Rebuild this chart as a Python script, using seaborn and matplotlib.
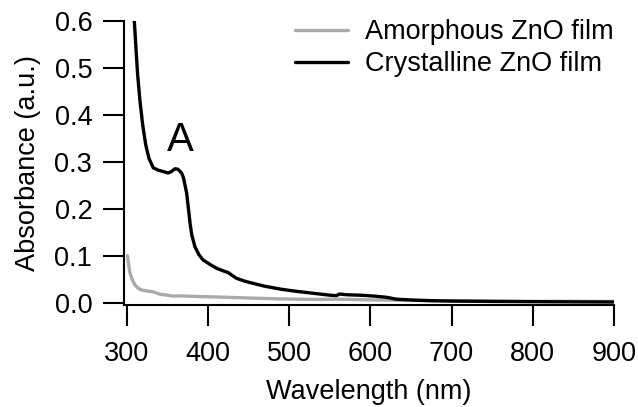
import matplotlib
matplotlib.use("Agg")
import matplotlib.pyplot as plt
import seaborn as sns
import pandas as pd

# 读图估计的数据
crys_nm = [309.3, 311.4, 313.5, 316.4, 319.7, 323.4, 327.4, 332.7, 338.9, 345, 351, 355,
           359.4, 363, 367.6, 370, 373.8, 376, 378, 380, 384, 389, 394, 402, 411, 420,
           425, 430, 435, 445, 456, 470, 489, 497, 510, 530, 550, 558, 562, 570, 591, 605,
           620, 632, 650, 673, 700, 750, 800, 850, 900]
crys_abs = [0.601, 0.541, 0.484, 0.428, 0.378, 0.336, 0.307, 0.287, 0.282, 0.279, 0.276,
            0.279, 0.285, 0.284, 0.276, 0.265, 0.233, 0.200, 0.169, 0.145, 0.119, 0.102,
            0.091, 0.082, 0.073, 0.067, 0.064, 0.058, 0.052, 0.046, 0.041, 0.035, 0.029,
            0.027, 0.024, 0.020, 0.016, 0.015, 0.0185, 0.017, 0.0157, 0.014, 0.0115,
            0.0075, 0.0058, 0.0043, 0.0035, 0.0027, 0.0022, 0.0018, 0.0015]

amor_nm = [301, 302, 304, 307, 310, 314, 318, 325, 333, 341, 350, 357, 366, 390, 415,
           450, 490, 538, 560, 600, 650, 700, 750, 800, 850, 900]
amor_abs = [0.100, 0.085, 0.063, 0.048, 0.038, 0.031, 0.027, 0.025, 0.023, 0.018, 0.016,
            0.014, 0.0145, 0.013, 0.012, 0.010, 0.008, 0.007, 0.0075, 0.006, 0.005, 0.004,
            0.0035, 0.003, 0.003, 0.0025]

labels = ['Amorphous ZnO film', 'Crystalline ZnO film']
colors = ['#aaaaaa', 'black']

df = pd.concat([
    pd.DataFrame({'Wavelength': amor_nm, 'Absorbance': amor_abs, 'Sample': labels[0]}),
    pd.DataFrame({'Wavelength': crys_nm, 'Absorbance': crys_abs, 'Sample': labels[1]}),
])

sns.set_style("ticks")
plt.rcParams['font.family'] = ['Liberation Sans', 'DejaVu Sans']
plt.rcParams['text.color'] = 'black'
plt.rcParams['axes.labelcolor'] = 'black'

fig = plt.figure(figsize=(6.38, 4.07), dpi=100)
ax = fig.add_axes([0.1948, 0.2499, 0.7676, 0.6992])

sns.lineplot(data=df, x='Wavelength', y='Absorbance', hue='Sample', hue_order=labels,
             palette=colors, linewidth=2.4, ax=ax, sort=False, estimator=None)

ax.set_xlim(297, 900)
ax.set_ylim(-0.0055, 0.6)
ax.set_xticks([300, 400, 500, 600, 700, 800, 900])
ax.set_yticks([0.0, 0.1, 0.2, 0.3, 0.4, 0.5, 0.6])
ax.set_yticklabels(['0.0', '0.1', '0.2', '0.3', '0.4', '0.5', '0.6'])
ax.tick_params(direction='out', length=15, width=1.5, labelsize=19.5, colors='black')
ax.tick_params(axis='y', pad=8)
ax.tick_params(axis='x', pad=11)
for s in ['left', 'bottom']:
    ax.spines[s].set_linewidth(1.5)
    ax.spines[s].set_color('black')
sns.despine(ax=ax)

ax.set_xlabel('Wavelength (nm)', fontsize=19.5, labelpad=8)
ax.set_ylabel('Absorbance (a.u.)', fontsize=19.5, labelpad=10)

ax.text(366, 0.346, 'A', fontsize=29, ha='center', va='center')

leg = ax.legend(loc='upper right', bbox_to_anchor=(1.0, 1.005), frameon=False, fontsize=19.5,
                handlelength=1.95, handletextpad=0.65, labelspacing=0.22, borderpad=0,
                borderaxespad=0)
for line in leg.get_lines():
    line.set_linewidth(2.4)

fig.savefig('out.png', dpi=100)
